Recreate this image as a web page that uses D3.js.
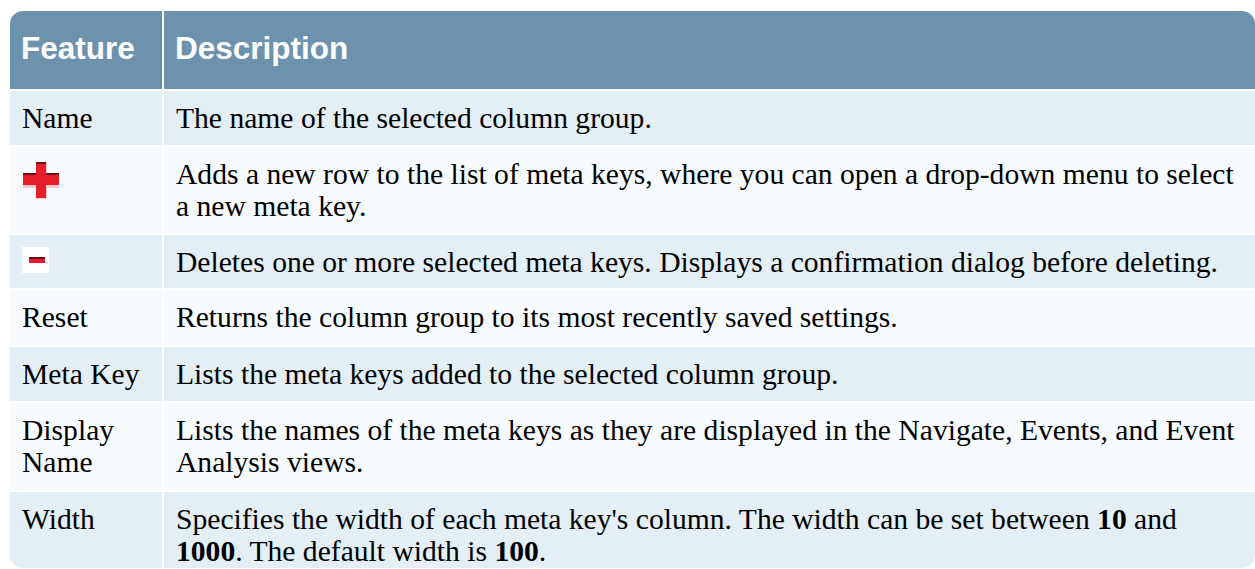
<!DOCTYPE html>
<html><head><meta charset="utf-8">
<script src="https://cdn.jsdelivr.net/npm/d3@7"></script>
<style>html,body{margin:0;padding:0;background:#fff;overflow:hidden}</style>
</head><body>
<svg id="c" width="1255" height="569"></svg>
<script>
// ---- data ----
const headers = ["Feature", "Description"];
const featureLines = [
  ["Name"], ["[plus]"], ["[minus]"], ["Reset"], ["Meta Key"], ["Display", "Name"], ["Width"]
];
// each description: array of lines; each line: array of [text, bold]
const descriptionLines = [
  [[["The name of the selected column group.", false]]],
  [[["Adds a new row to the list of meta keys, where you can open a drop-down menu to select", false]],
   [["a new meta key.", false]]],
  [[["Deletes one or more selected meta keys. Displays a confirmation dialog before deleting.", false]]],
  [[["Returns the column group to its most recently saved settings.", false]]],
  [[["Lists the meta keys added to the selected column group.", false]]],
  [[["Lists the names of the meta keys as they are displayed in the Navigate, Events, and Event", false]],
   [["Analysis views.", false]]],
  [[["Specifies the width of each meta key's column. The width can be set between ", false], ["10", true], [" and", false]],
   [["1000", true], [". The default width is ", false], ["100", true], [".", false]]]
];
const rowHeights = [54, 86, 53, 55, 54, 87, 76];

// ---- layout ----
const svg = d3.select("#c");
const X0 = 10, X1 = 1255, colX = 162, gap = 2;
const headTop = 11, headBot = 89;
const lineH = 32, firstBase = 37;
const headerColor = "#6c92ae", oddColor = "#e3eef5", evenColor = "#f7fbfe";

const rows = [];
let y = headBot + gap;
rowHeights.forEach((h, i) => { rows.push({i, top: y, h}); y += h + gap; });
const tableBottom = rows[rows.length - 1].top + rows[rows.length - 1].h;

const r = 13;
svg.append("defs").append("clipPath").attr("id", "round")
  .append("rect").attr("x", X0).attr("y", headTop)
  .attr("width", X1 - X0).attr("height", tableBottom - headTop).attr("rx", r).attr("ry", r);

const g = svg.append("g").attr("clip-path", "url(#round)");

g.append("rect").attr("x", X0).attr("y", headTop).attr("width", colX - X0).attr("height", headBot - headTop).attr("fill", headerColor);
g.append("rect").attr("x", colX + gap).attr("y", headTop).attr("width", X1 - colX - gap).attr("height", headBot - headTop).attr("fill", headerColor);

svg.selectAll("text.h").data(headers).join("text").attr("class", "h")
  .attr("x", (d, i) => i === 0 ? 21 : 175).attr("y", 59)
  .attr("font-family", "'Liberation Sans', Arial, sans-serif").attr("font-weight", "bold")
  .attr("font-size", 31.5).attr("fill", "#fff").text(d => d);

const rg = g.selectAll("g.row").data(rows).join("g").attr("class", "row");
rg.append("rect").attr("x", X0).attr("y", d => d.top).attr("width", colX - X0).attr("height", d => d.h)
  .attr("fill", d => d.i % 2 === 0 ? oddColor : evenColor);
rg.append("rect").attr("x", colX + gap).attr("y", d => d.top).attr("width", X1 - colX - gap).attr("height", d => d.h)
  .attr("fill", d => d.i % 2 === 0 ? oddColor : evenColor);

const serif = "'Liberation Serif', 'Times New Roman', serif";
const fs = 29.6;

rows.forEach(row => {
  const lines = featureLines[row.i];
  if (lines[0] === "[plus]") {
    const cx = 41, cy = row.top + 33;
    const ic = svg.append("g");
    ic.append("rect").attr("x", cx - 18).attr("y", cy - 5).attr("width", 36).attr("height", 13).attr("fill", "#f3c9cc");
    ic.append("rect").attr("x", cx - 5).attr("y", cy - 18).attr("width", 11).attr("height", 37).attr("fill", "#f3c9cc");
    ic.append("rect").attr("x", cx - 18).attr("y", cy - 7).attr("width", 36).attr("height", 12).attr("fill", "#e61e2b");
    ic.append("rect").attr("x", cx - 5).attr("y", cy - 18).attr("width", 10).attr("height", 36).attr("fill", "#e61e2b");
    ic.append("rect").attr("x", cx - 18).attr("y", cy - 7).attr("width", 13).attr("height", 2).attr("fill", "#6b1016");
    ic.append("rect").attr("x", cx + 5).attr("y", cy - 7).attr("width", 13).attr("height", 2).attr("fill", "#6b1016");
    ic.append("rect").attr("x", cx - 5).attr("y", cy - 18).attr("width", 10).attr("height", 2).attr("fill", "#6b1016");
  } else if (lines[0] === "[minus]") {
    const bx = 22, by = row.top + 12;
    svg.append("rect").attr("x", bx).attr("y", by).attr("width", 27).attr("height", 26).attr("fill", "#ffffff");
    svg.append("rect").attr("x", bx + 7).attr("y", by + 10).attr("width", 16).attr("height", 6).attr("fill", "#e61e2b");
    svg.append("rect").attr("x", bx + 7).attr("y", by + 10).attr("width", 16).attr("height", 2).attr("fill", "#6b1016");
  } else {
    const t = svg.append("text").attr("font-family", serif).attr("font-size", fs).attr("fill", "#000");
    lines.forEach((ln, k) => {
      t.append("tspan").attr("x", 22).attr("y", row.top + firstBase + k * lineH).text(ln);
    });
  }
  const t2 = svg.append("text").attr("font-family", serif).attr("font-size", fs).attr("fill", "#000");
  descriptionLines[row.i].forEach((ln, k) => {
    ln.forEach((seg, j) => {
      const ts = t2.append("tspan").text(seg[0]).attr("font-weight", seg[1] ? "bold" : "normal");
      if (j === 0) ts.attr("x", 176).attr("y", row.top + firstBase + k * lineH);
    });
  });
});
</script>
</body></html>
